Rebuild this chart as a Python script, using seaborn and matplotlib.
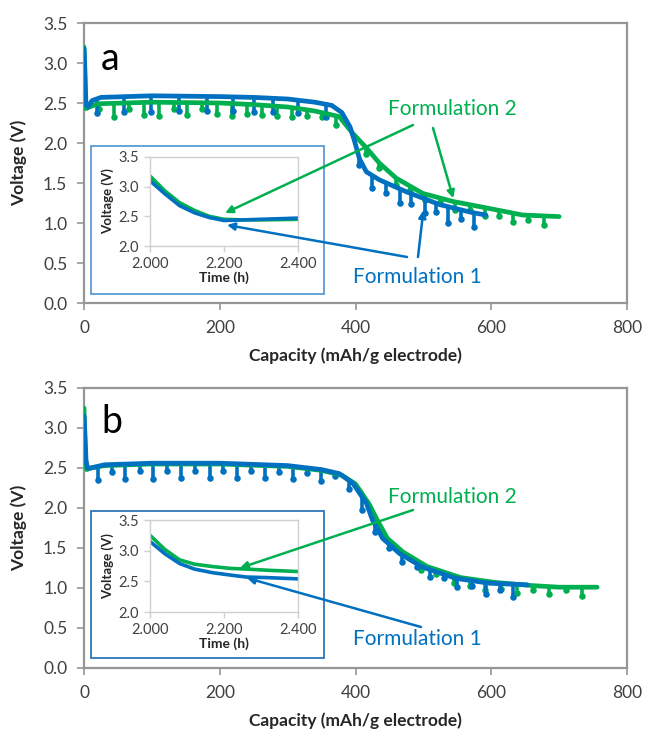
import numpy as np
import matplotlib
matplotlib.use("Agg")
import matplotlib.pyplot as plt
import seaborn as sns
from matplotlib.patches import Rectangle, ConnectionPatch

sns.set_theme(style="white")
plt.rcParams["font.family"] = ["Lato", "DejaVu Sans"]

BLUE = "#0070C0"
GREEN = "#00B050"
FRAME = "#969696"
TICKTXT = "#404040"

# ---- panel a: capacity (mAh/g) vs voltage (V) ----
a_f1_cap = [0, 1, 2, 3, 6, 12, 25, 100, 200, 250, 300, 340, 365, 380, 392, 398, 406, 416, 435, 475, 524, 572, 592]
a_f1_volt = [3.18, 3.0, 2.7, 2.48, 2.45, 2.53, 2.57, 2.59, 2.58, 2.57, 2.55, 2.51, 2.47, 2.38, 2.2, 2.04, 1.8, 1.64, 1.54, 1.39, 1.23, 1.13, 1.1]
a_f2_cap = [0, 1, 2, 3, 8, 20, 100, 200, 250, 300, 340, 376, 396, 416, 435, 460, 499, 543, 592, 646, 700]
a_f2_volt = [3.2, 2.9, 2.6, 2.43, 2.45, 2.49, 2.51, 2.5, 2.48, 2.45, 2.4, 2.33, 2.12, 1.94, 1.75, 1.56, 1.37, 1.27, 1.19, 1.1, 1.08]

# pulse dips (capacity, lowest voltage)
a_f1_dip_cap = [19, 59, 99, 140, 181, 220, 250, 278, 315, 357, 405, 425, 445, 465, 482, 502, 519, 537, 556, 575]
a_f1_dip_min = [2.38, 2.39, 2.39, 2.40, 2.40, 2.40, 2.39, 2.39, 2.37, 2.33, 1.72, 1.44, 1.38, 1.25, 1.24, 1.12, 1.14, 1.00, 1.05, 0.95]
a_f2_dip_cap = [22, 44, 66, 88, 110, 132, 152, 174, 196, 218, 240, 262, 284, 306, 328, 350, 372,
                415, 435, 460, 481, 503, 524, 546, 568, 591, 612, 632, 654, 678]
a_f2_dip_min = [2.42, 2.33, 2.43, 2.35, 2.34, 2.42, 2.35, 2.42, 2.36, 2.34, 2.36, 2.35, 2.34, 2.33, 2.34, 2.32, 2.22,
                1.86, 1.69, 1.48, 1.41, 1.29, 1.26, 1.16, 1.16, 1.09, 1.09, 1.01, 1.04, 0.98]

# ---- panel b ----
b_f1_cap = [0, 1, 3, 5, 10, 30, 100, 200, 300, 350, 376, 396, 416, 425, 440, 465, 499, 548, 597, 653]
b_f1_volt = [3.15, 3.0, 2.6, 2.5, 2.5, 2.54, 2.56, 2.56, 2.53, 2.48, 2.43, 2.31, 2.06, 1.85, 1.62, 1.43, 1.26, 1.12, 1.06, 1.04]
b_f2_cap = [0, 2, 4, 10, 30, 100, 200, 300, 350, 380, 400, 420, 432, 447, 470, 505, 555, 605, 660, 700, 756]
b_f2_volt = [3.25, 2.6, 2.48, 2.5, 2.53, 2.55, 2.55, 2.52, 2.47, 2.41, 2.3, 2.05, 1.85, 1.62, 1.45, 1.27, 1.13, 1.07, 1.03, 1.01, 1.01]

b_f1_dip_cap = [20, 41, 61, 82, 102, 123, 143, 164, 185, 205, 226, 246, 267, 288, 308, 329, 349, 370, 390,
                410, 428, 450, 469, 490, 510, 531, 550, 572, 593, 613, 632]
b_f1_dip_min = [2.35, 2.45, 2.36, 2.46, 2.36, 2.46, 2.37, 2.46, 2.37, 2.46, 2.37, 2.46, 2.37, 2.45, 2.36, 2.44, 2.34, 2.40, 2.24,
                1.98, 1.70, 1.50, 1.33, 1.26, 1.14, 1.12, 1.01, 1.03, 0.93, 0.97, 0.89]
b_f2_dip_cap = [497, 519, 545, 568, 591, 615, 638, 662, 685, 710, 734]
b_f2_dip_min = [1.22, 1.18, 1.06, 1.03, 0.98, 0.99, 0.94, 0.98, 0.93, 0.98, 0.90]

# ---- insets: time (h) vs voltage (V) ----
a_in_time = [2.0, 2.04, 2.08, 2.12, 2.16, 2.2, 2.25, 2.3, 2.4]
a_in_f1 = [3.10, 2.88, 2.68, 2.56, 2.48, 2.43, 2.44, 2.45, 2.47]
a_in_f2 = [3.18, 2.93, 2.73, 2.60, 2.50, 2.45, 2.44, 2.44, 2.45]
b_in_time = [2.0, 2.04, 2.08, 2.12, 2.17, 2.22, 2.26, 2.32, 2.4]
b_in_f1 = [3.15, 2.95, 2.79, 2.70, 2.64, 2.60, 2.57, 2.56, 2.54]
b_in_f2 = [3.25, 3.02, 2.85, 2.78, 2.74, 2.71, 2.70, 2.68, 2.66]

W, H = 647, 733


def fx(px):
    return px / W


def fy(py):
    return 1 - py / H


def style_main(ax):
    ax.set_xlim(0, 800)
    ax.set_ylim(0, 3.5)
    ax.set_xticks([0, 200, 400, 600, 800])
    ax.set_yticks(np.arange(0, 3.51, 0.5))
    ax.set_yticklabels([f"{v:.1f}" for v in np.arange(0, 3.51, 0.5)])
    for s in ax.spines.values():
        s.set_color(FRAME)
        s.set_linewidth(1.6)
    ax.tick_params(axis="both", direction="out", length=5, width=1.2, color=FRAME,
                   labelsize=12.5, labelcolor=TICKTXT, pad=7, bottom=True, left=True)
    ax.set_xlabel("Capacity (mAh/g electrode)", fontsize=12.5, fontweight="bold", color="#262626")
    ax.set_ylabel("Voltage (V)", fontsize=12.5, fontweight="bold", color="#262626")
    ax.xaxis.set_label_coords(0.5, -0.16)
    ax.yaxis.set_label_coords(-0.105, 0.5)


def style_inset(ax):
    ax.set_xlim(2.0, 2.4)
    ax.set_ylim(2.0, 3.5)
    ax.set_xticks([2.0, 2.2, 2.4])
    ax.set_xticklabels(["2.000", "2.200", "2.400"])
    ax.set_yticks([2.0, 2.5, 3.0, 3.5])
    ax.set_yticklabels(["2.0", "2.5", "3.0", "3.5"])
    for s in ax.spines.values():
        s.set_color("#D0D0D0")
        s.set_linewidth(1.0)
    ax.tick_params(axis="both", direction="out", length=4, width=1, color="#D0D0D0",
                   labelsize=10.5, labelcolor=TICKTXT, pad=4, bottom=True, left=True)
    ax.set_xlabel("Time (h)", fontsize=10, fontweight="bold", color="#262626", labelpad=0)
    ax.set_ylabel("Voltage (V)", fontsize=9.5, fontweight="bold", color="#262626", labelpad=3)


def draw_dips(ax, cap, volt, dcap, dmin, color):
    top = np.interp(dcap, cap, volt)
    ax.vlines(dcap, dmin, top, color=color, lw=2.6, zorder=2)
    sns.scatterplot(x=dcap, y=dmin, ax=ax, color=color, s=22, linewidth=0, zorder=2)


def arrow(fig, start_px, tip, ax_to, color):
    con = ConnectionPatch(xyA=(fx(start_px[0]), fy(start_px[1])), coordsA="figure fraction",
                          xyB=tip, coordsB=ax_to.transData, arrowstyle="-|>",
                          color=color, lw=1.8, mutation_scale=11, shrinkA=0, shrinkB=0)
    con.set_zorder(6)
    fig.add_artist(con)


fig = plt.figure(figsize=(W / 100, H / 100), dpi=100)

panels = [
    dict(top=23, letter="a", letter_y=70,
         f1=(a_f1_cap, a_f1_volt, a_f1_dip_cap, a_f1_dip_min),
         f2=(a_f2_cap, a_f2_volt, a_f2_dip_cap, a_f2_dip_min),
         inset=(a_in_time, a_in_f1, a_in_f2), box_top=146, box_bot=294, in_top=157, in_bot=246,
         box_color="#5B9BD5"),
    dict(top=388, letter="b", letter_y=433,
         f1=(b_f1_cap, b_f1_volt, b_f1_dip_cap, b_f1_dip_min),
         f2=(b_f2_cap, b_f2_volt, b_f2_dip_cap, b_f2_dip_min),
         inset=(b_in_time, b_in_f1, b_in_f2), box_top=511, box_bot=658, in_top=520, in_bot=612,
         box_color="#2E75B6"),
]

axes = []
for p in panels:
    ax = fig.add_axes([fx(84), fy(p["top"] + 280), fx(627) - fx(84), 280 / H])
    ax.set_zorder(0)
    cap1, v1, dc1, dm1 = p["f1"]
    cap2, v2, dc2, dm2 = p["f2"]
    draw_dips(ax, cap2, v2, dc2, dm2, GREEN)
    sns.lineplot(x=cap2, y=v2, ax=ax, color=GREEN, lw=3.4, sort=False, estimator=None, zorder=3,
                 solid_capstyle="round")
    draw_dips(ax, cap1, v1, dc1, dm1, BLUE)
    sns.lineplot(x=cap1, y=v1, ax=ax, color=BLUE, lw=3.4, sort=False, estimator=None, zorder=4,
                 solid_capstyle="round")
    style_main(ax)
    fig.text(fx(101), fy(p["letter_y"]), p["letter"], fontsize=27, color="black", va="baseline")

    box = Rectangle((fx(91), fy(p["box_bot"])), fx(324) - fx(91), (p["box_bot"] - p["box_top"]) / H,
                    transform=fig.transFigure, facecolor="white", edgecolor=p["box_color"], lw=1.3)
    box.set_zorder(2)
    fig.add_artist(box)

    iax = fig.add_axes([fx(150), fy(p["in_bot"]), fx(298) - fx(150), (p["in_bot"] - p["in_top"]) / H])
    iax.set_zorder(3)
    iax.patch.set_alpha(0)
    t, i1, i2 = p["inset"]
    sns.lineplot(x=t, y=i2, ax=iax, color=GREEN, lw=2.6, sort=False, estimator=None, solid_capstyle="round")
    sns.lineplot(x=t, y=i1, ax=iax, color=BLUE, lw=2.6, sort=False, estimator=None, solid_capstyle="round")
    style_inset(iax)
    axes.append((ax, iax))

(ax_a, in_a), (ax_b, in_b) = axes

# annotations, panel a
fig.text(fx(452), fy(109), "Formulation 2", color=GREEN, fontsize=15, ha="center", va="center", zorder=7)
fig.text(fx(417), fy(277), "Formulation 1", color=BLUE, fontsize=15, ha="center", va="center", zorder=7)
arrow(fig, (413, 125), (2.203, 2.556), in_a, GREEN)
arrow(fig, (433, 128), (544, 1.31), ax_a, GREEN)
arrow(fig, (407, 257), (2.208, 2.354), in_a, BLUE)
arrow(fig, (418, 257), (500, 1.16), ax_a, BLUE)

# annotations, panel b
fig.text(fx(452), fy(497), "Formulation 2", color=GREEN, fontsize=15, ha="center", va="center", zorder=7)
fig.text(fx(417), fy(639), "Formulation 1", color=BLUE, fontsize=15, ha="center", va="center", zorder=7)
arrow(fig, (413, 510), (2.243, 2.717), in_b, GREEN)
arrow(fig, (421, 627), (2.262, 2.554), in_b, BLUE)

fig.savefig("out.png", dpi=100)
